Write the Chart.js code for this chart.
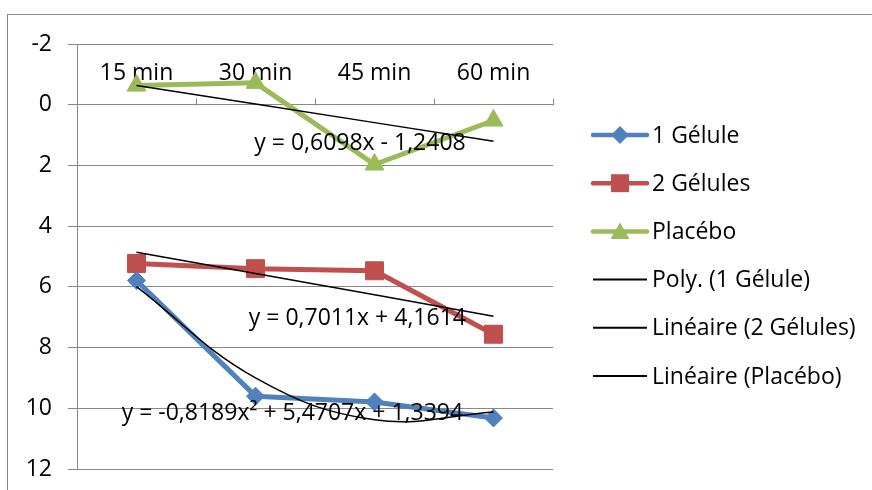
<!DOCTYPE html>
<html>
<head>
<meta charset="utf-8">
<script src="https://cdn.jsdelivr.net/npm/chart.js@4/dist/chart.umd.min.js"></script>
<style>
  html, body { margin: 0; padding: 0; background: #ffffff; }
  #wrap { width: 872px; height: 490px; position: relative; }
</style>
</head>
<body>
<div id="wrap"><canvas id="c" width="872" height="490"></canvas></div>
<script>
// ---- data ----
const categories = ['15 min', '30 min', '45 min', '60 min'];
const yTickValues = [-2, 0, 2, 4, 6, 8, 10, 12];

const gelule1 = [5.79, 9.6, 9.79, 10.32];
const gelules2 = [5.23, 5.4, 5.47, 7.56];
const placebo = [-0.63, -0.72, 1.97, 0.52];

// trend lines, values of the displayed equations at each category
const trendPoly1 = [5.99, 9.00, 10.38, 10.12];
const trendLin2 = [4.86, 5.56, 6.26, 6.97];
const trendLinP = [-0.63, -0.02, 0.59, 1.20];

const seriesNames = ['1 Gélule', '2 Gélules', 'Placébo', 'Poly. (1 Gélule)', 'Linéaire (2 Gélules)', 'Linéaire (Placébo)'];
const equations = ['y = -0,8189x² + 5,4707x + 1,3394', 'y = 0,7011x + 4,1614', 'y = 0,6098x - 1,2408'];

const FONT = "'Open Sans', 'Noto Sans', sans-serif";
const FS = 23;
const BLUE = '#4F81BD', RED = '#C0504D', GREEN = '#9BBB59';
const GRID = '#888888';

function drawMarker(ctx, style, x, y, r, color) {
  ctx.save();
  ctx.fillStyle = color;
  ctx.beginPath();
  if (style === 'rectRot') {
    ctx.moveTo(x, y - r); ctx.lineTo(x + r, y); ctx.lineTo(x, y + r); ctx.lineTo(x - r, y);
  } else if (style === 'rect') {
    const h = r * Math.SQRT1_2;
    ctx.rect(x - h, y - h, 2 * h, 2 * h);
  } else if (style === 'triangle') {
    ctx.moveTo(x, y - r);
    ctx.lineTo(x + Math.sin(2 * Math.PI / 3) * r, y + 0.5 * r);
    ctx.lineTo(x - Math.sin(2 * Math.PI / 3) * r, y + 0.5 * r);
  }
  ctx.closePath();
  ctx.fill();
  ctx.restore();
}

const decorPlugin = {
  id: 'decor',
  beforeDraw(chart) {
    const ctx = chart.ctx;
    ctx.save();
    ctx.strokeStyle = GRID;
    ctx.lineWidth = 1;
    ctx.strokeRect(7.5, 14.5, 1000, 1000);
    ctx.restore();
  },
  beforeDatasetsDraw(chart) {
    const ctx = chart.ctx;
    const xs = chart.scales.x, ys = chart.scales.y;
    const y0 = Math.round(ys.getPixelForValue(0)) + 0.5;
    ctx.save();
    // category axis tick marks (between categories)
    ctx.strokeStyle = GRID;
    ctx.lineWidth = 1;
    for (let k = 0; k <= categories.length; k++) {
      const px = Math.round(xs.getPixelForValue(k - 0.5)) + 0.5;
      ctx.beginPath();
      ctx.moveTo(px, y0);
      ctx.lineTo(px, y0 - 7);
      ctx.stroke();
    }
    // category labels above the axis
    ctx.fillStyle = '#000';
    ctx.font = FS + 'px ' + FONT;
    ctx.textAlign = 'center';
    ctx.textBaseline = 'alphabetic';
    categories.forEach((c, i) => {
      ctx.fillText(c, xs.getPixelForValue(i), y0 - 26);
    });
    ctx.restore();
  },
  afterDatasetsDraw(chart) {
    const ctx = chart.ctx;
    const xs = chart.scales.x, ys = chart.scales.y;
    ctx.save();
    ctx.fillStyle = '#000';
    ctx.font = FS + 'px ' + FONT;
    ctx.textAlign = 'center';
    ctx.textBaseline = 'alphabetic';
    ctx.fillText(equations[2], xs.getPixelForValue(1.878), ys.getPixelForValue(1.49));
    ctx.fillText(equations[1], xs.getPixelForValue(1.856), ys.getPixelForValue(7.25));
    ctx.fillText(equations[0], xs.getPixelForValue(1.31), ys.getPixelForValue(10.39));
    ctx.restore();
  },
  afterDraw(chart) {
    const ctx = chart.ctx;
    const items = chart.data.datasets;
    const x1 = 593, x2 = 647, mx = 620, tx = 652;
    ctx.save();
    ctx.font = FS + 'px ' + FONT;
    ctx.textBaseline = 'middle';
    ctx.textAlign = 'left';
    items.forEach((ds, i) => {
      const y = 135 + i * 48.2;
      ctx.strokeStyle = ds.borderColor;
      ctx.lineWidth = ds.legendLineWidth;
      ctx.lineCap = ds.pointStyle ? 'round' : 'butt';
      ctx.beginPath();
      ctx.moveTo(x1, y);
      ctx.lineTo(x2, y);
      ctx.stroke();
      if (ds.pointStyle) {
        drawMarker(ctx, ds.pointStyle, mx, y + (ds.pointStyle === 'triangle' ? 2 : 0), ds.legendMarkerR, ds.pointBackgroundColor);
      }
      ctx.fillStyle = '#000';
      ctx.fillText(ds.label, tx, y + 1);
    });
    ctx.restore();
  }
};

const seriesStyle = (color, style, r, lr) => ({
  borderColor: color,
  backgroundColor: color,
  pointBackgroundColor: color,
  pointBorderColor: color,
  pointBorderWidth: 1,
  pointStyle: style,
  pointRadius: r,
  borderWidth: 5,
  borderJoinStyle: 'round',
  borderCapStyle: 'round',
  legendLineWidth: 4.5,
  legendMarkerR: lr,
  tension: 0,
  order: 1
});
const trendStyle = (tension) => ({
  borderColor: '#000000',
  backgroundColor: '#000000',
  borderWidth: 1.5,
  pointRadius: 0,
  pointStyle: false,
  legendLineWidth: 2,
  tension: tension,
  order: 0
});

new Chart(document.getElementById('c'), {
  type: 'line',
  data: {
    labels: categories,
    datasets: [
      Object.assign({ label: seriesNames[0], data: gelule1 }, seriesStyle(BLUE, 'rectRot', 9, 9)),
      Object.assign({ label: seriesNames[1], data: gelules2 }, seriesStyle(RED, 'rect', 12.7, 12.7)),
      Object.assign({ label: seriesNames[2], data: placebo }, seriesStyle(GREEN, 'triangle', 11, 11)),
      Object.assign({ label: seriesNames[3], data: trendPoly1 }, trendStyle(0.4)),
      Object.assign({ label: seriesNames[4], data: trendLin2 }, trendStyle(0)),
      Object.assign({ label: seriesNames[5], data: trendLinP }, trendStyle(0))
    ]
  },
  options: {
    responsive: false,
    animation: false,
    events: [],
    layout: { padding: { left: 0, top: 44, right: 319, bottom: 21 } },
    plugins: { legend: { display: false }, tooltip: { enabled: false } },
    scales: {
      x: {
        type: 'category',
        offset: true,
        display: false
      },
      y: {
        reverse: true,
        min: -2,
        max: 12,
        afterBuildTicks: (s) => { s.ticks = yTickValues.map(v => ({ value: v })); },
        afterFit: (s) => { s.width = 77; s.paddingTop = 0; s.paddingBottom = 0; },
        ticks: {
          color: '#000',
          font: { family: FONT, size: FS },
          padding: 16
        },
        grid: { color: GRID, lineWidth: 1, tickLength: 9, drawTicks: true },
        border: { color: GRID, width: 1 }
      }
    }
  },
  plugins: [decorPlugin]
});
</script>
</body>
</html>
